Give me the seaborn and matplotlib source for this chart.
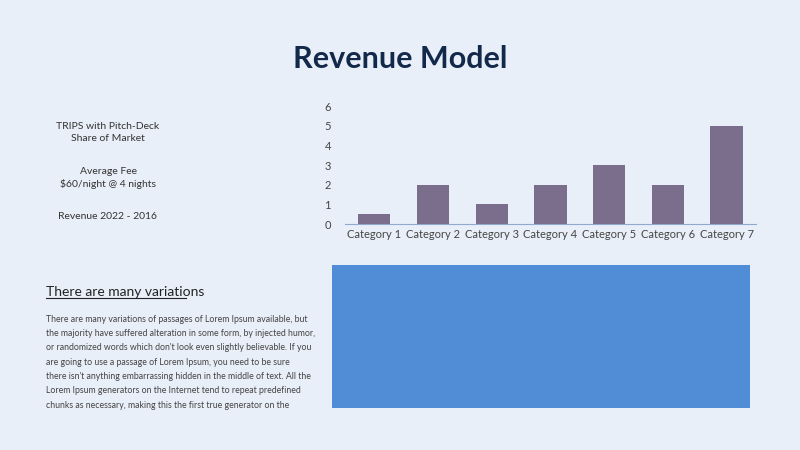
import matplotlib
matplotlib.use("Agg")
import matplotlib.pyplot as plt
import seaborn as sns
import pandas as pd
from matplotlib.patches import Rectangle

categories = ["Category 1", "Category 2", "Category 3", "Category 4",
              "Category 5", "Category 6", "Category 7"]
values = [0.5, 2, 1, 2, 3, 2, 5]
y_ticks = [0, 1, 2, 3, 4, 5, 6]

bg = "#e9eff8"
plt.rcParams["font.family"] = "Lato"

fig = plt.figure(figsize=(8, 4.5), dpi=100, facecolor=bg)

fig.text(0.5, 0.868, "Revenue Model", ha="center", va="center",
         fontsize=22, fontweight="bold", color="#13294b")

txt = "#333333"
fig.text(0.135, 0.705, "TRIPS with Pitch-Deck\nShare of Market", ha="center",
         va="center", fontsize=7.5, color=txt, linespacing=1.4)
fig.text(0.135, 0.605, "Average Fee\n$60/night @ 4 nights", ha="center",
         va="center", fontsize=7.5, color=txt, linespacing=1.4)
fig.text(0.135, 0.519, "Revenue 2022 - 2016", ha="center",
         va="center", fontsize=7.5, color=txt)

fig.text(0.058, 0.352, "There are many variations", fontsize=10,
         color="#222222", va="center")
fig.add_artist(plt.Line2D([0.058, 0.232], [0.337, 0.337], color="#222222", lw=0.8))
body = ("There are many variations of passages of Lorem Ipsum available, but\n"
        "the majority have suffered alteration in some form, by injected humor,\n"
        "or randomized words which don't look even slightly believable. If you\n"
        "are going to use a passage of Lorem Ipsum, you need to be sure\n"
        "there isn't anything embarrassing hidden in the middle of text. All the\n"
        "Lorem Ipsum generators on the Internet tend to repeat predefined\n"
        "chunks as necessary, making this the first true generator on the")
fig.text(0.058, 0.300, body, fontsize=6.3, color="#444444", va="top",
         linespacing=1.75)

fig.add_artist(Rectangle((0.415, 0.093), 0.523, 0.318, transform=fig.transFigure,
                         facecolor="#518cd6", edgecolor="none"))

ax = fig.add_axes([0.431, 0.502, 0.514, 0.262])
ax.set_facecolor(bg)
df = pd.DataFrame({"cat": categories, "val": values})
sns.barplot(data=df, x="cat", y="val", color="#7a6e8c", saturation=1,
            width=0.55, ax=ax)
ax.set_ylim(0, 6)
ax.set_yticks(y_ticks)
ax.set_xlabel("")
ax.set_ylabel("")
for s in ["top", "right", "left"]:
    ax.spines[s].set_visible(False)
ax.spines["bottom"].set_color("#8fa9cf")
ax.tick_params(axis="both", length=0, labelsize=8, colors="#444444")
ax.tick_params(axis="y", pad=10)

fig.savefig("out.png", dpi=100, facecolor=bg)
